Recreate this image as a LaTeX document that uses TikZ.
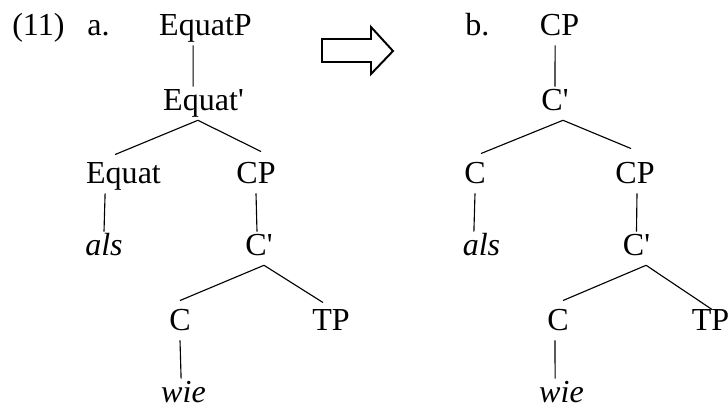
\documentclass[tikz,border=0pt]{standalone}
\usepackage{fontspec}
\setmainfont{Liberation Serif}[Ligatures=TeXOff]
\usetikzlibrary{positioning,calc}
\tikzset{
  cat/.style={anchor=base, inner sep=0pt, text height=0.58cm, text depth=0.25cm,
              font=\fontsize{22.8}{27}\selectfont},
  lex/.style={cat, font=\fontsize{22.8}{27}\selectfont\itshape},
  exnum/.style={anchor=base west, inner sep=0pt, font=\fontsize{22.8}{27}\selectfont},
  edge/.style={line width=0.8pt},
  shiftarrow/.style={line width=1.4pt, line join=miter},
}
\begin{document}
\begin{tikzpicture}
  \useasboundingbox (0,0) rectangle (18.2,-10.175);
  % (a)
  \node[exnum] (ex) at (0.3,-0.875) {(11)};
  \node[exnum] (la) at (2.175,-0.875) {a.};
  \node[cat] (EP)  at (5.1375,-0.875) {EquatP};
  \node[cat] (Eb)  at (5.0875,-2.75) {Equat'};
  \node[cat] (Eq)  at (3.0875,-4.575) {Equat};
  \node[cat] (CPa) at (6.4,-4.575) {CP};
  \node[lex] (alsa) at (2.6,-6.375) {als};
  \node[cat] (Cba) at (6.475,-6.375) {C'};
  \node[cat] (Ca)  at (4.5,-8.25) {C};
  \node[cat] (TPa) at (8.275,-8.25) {TP};
  \node[lex] (wiea) at (4.5875,-10.05) {wie};
  \draw[edge] ([xshift=-0.31cm]EP.south) -- ([xshift=-0.26cm]Eb.north);
  \draw[edge] ([xshift=-0.14cm]Eb.south) -- ([shift={(-0.21,0.125)}]Eq.north);
  \draw[edge] ([xshift=-0.14cm]Eb.south) -- ([shift={(0.125,0.2)}]CPa.north);
  \draw[edge] ([xshift=-0.46cm]Eq.south) -- (alsa.north);
  \draw[edge] (CPa.south) -- ([xshift=-0.05cm]Cba.north);
  \draw[edge] ([xshift=0.125cm]Cba.south) -- ([shift={(0,0.15)}]Ca.north);
  \draw[edge] ([xshift=0.125cm]Cba.south) -- ([shift={(-0.2,0.1)}]TPa.north);
  \draw[edge] (Ca.south) -- ([xshift=-0.06cm]wiea.north);
  % the arrow
  \draw[shiftarrow] (8.05,-0.975) -- (9.275,-0.975) -- (9.275,-0.675) -- (9.825,-1.275)
    -- (9.275,-1.85) -- (9.275,-1.55) -- (8.05,-1.55) -- cycle;
  % (b)
  \node[exnum] (lb) at (11.625,-0.875) {b.};
  \node[cat] (CPb)  at (13.9875,-0.875) {CP};
  \node[cat] (Cbb)  at (13.875,-2.75) {C'};
  \node[cat] (Cb)   at (11.875,-4.575) {C};
  \node[cat] (CPb2) at (15.875,-4.575) {CP};
  \node[lex] (alsb) at (12.0375,-6.375) {als};
  \node[cat] (Cbb2) at (15.9125,-6.375) {C'};
  \node[cat] (Cb2)  at (13.95,-8.25) {C};
  \node[cat] (TPb)  at (17.7625,-8.25) {TP};
  \node[lex] (wieb) at (14.0375,-10.05) {wie};
  \draw[edge] ([xshift=-0.11cm]CPb.south) -- (Cbb.north);
  \draw[edge] ([xshift=0.2cm]Cbb.south) -- ([shift={(0.15,0.15)}]Cb.north);
  \draw[edge] ([xshift=0.2cm]Cbb.south) -- ([shift={(-0.1,0.275)}]CPb2.north);
  \draw[edge] (Cb.south) -- ([xshift=-0.19cm]alsb.north);
  \draw[edge] ([xshift=0.05cm]CPb2.south) -- (Cbb2.north);
  \draw[edge] ([xshift=0.24cm]Cbb2.south) -- ([shift={(0.125,0.15)}]Cb2.north);
  \draw[edge] ([xshift=0.24cm]Cbb2.south) -- ([shift={(0.04,-0.075)}]TPb.north);
  \draw[edge] ([xshift=-0.075cm]Cb2.south) -- ([xshift=-0.16cm]wieb.north);
\end{tikzpicture}
\end{document}
